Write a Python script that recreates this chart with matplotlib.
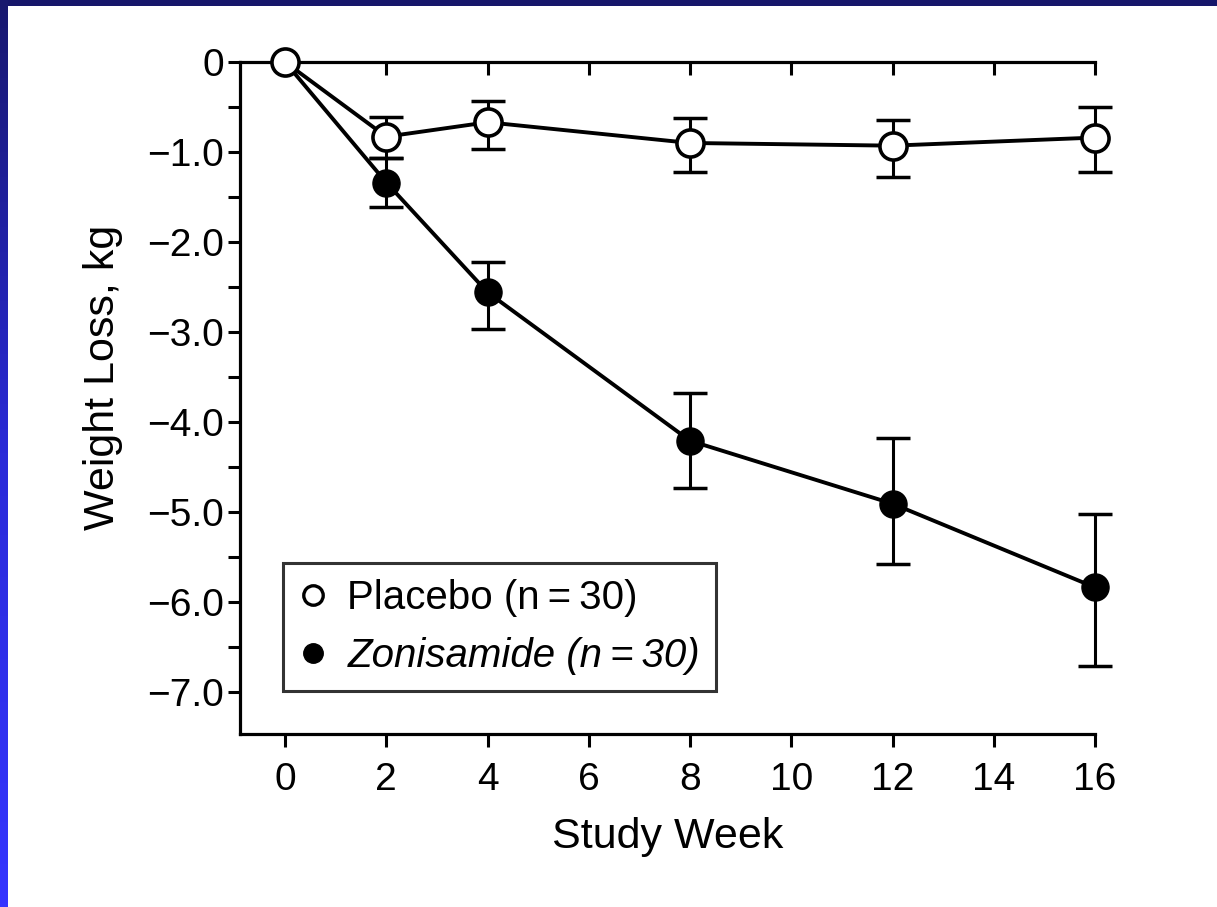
import numpy as np
import matplotlib
matplotlib.use("Agg")
import matplotlib.pyplot as plt
from matplotlib.lines import Line2D
from matplotlib.ticker import FixedLocator, FixedFormatter, MultipleLocator

# Study data: mean weight change (kg) with upper/lower error-bar ends
weeks = [0, 2, 4, 8, 12, 16]

placebo_mean = [0.0, -0.83, -0.67, -0.90, -0.93, -0.84]
placebo_hi = [0.0, -0.61, -0.43, -0.62, -0.64, -0.50]
placebo_lo = [0.0, -1.07, -0.97, -1.22, -1.28, -1.22]

zonisamide_mean = [0.0, -1.34, -2.56, -4.21, -4.91, -5.84]
zonisamide_hi = [0.0, -1.07, -2.22, -3.68, -4.18, -5.03]
zonisamide_lo = [0.0, -1.61, -2.97, -4.74, -5.58, -6.71]

x_ticks = [0, 2, 4, 6, 8, 10, 12, 14, 16]
y_ticks = [0, -1, -2, -3, -4, -5, -6, -7]
y_tick_labels = ["0", "\u22121.0", "\u22122.0", "\u22123.0", "\u22124.0",
                 "\u22125.0", "\u22126.0", "\u22127.0"]

series_labels = ["Placebo (n\u2009=\u200930)", "Zonisamide (n\u2009=\u200930)"]

plt.rcParams["font.family"] = ["Liberation Sans", "DejaVu Sans"]

W, H = 1217, 907
fig = plt.figure(figsize=(W / 100, H / 100), dpi=100)
fig.patch.set_facecolor("white")

# Slide frame: navy top band and a blue gradient strip on the left
top_ax = fig.add_axes([0, 1 - 6 / H, 1, 6 / H])
top_ax.set_axis_off()
top_ax.add_patch(plt.Rectangle((0, 0), 1, 1, color="#16166a", transform=top_ax.transAxes))

left_ax = fig.add_axes([0, 0, 8 / W, 1])
left_ax.set_axis_off()
grad = np.linspace(0, 1, 256).reshape(-1, 1)
cmap = matplotlib.colors.LinearSegmentedColormap.from_list("frame", ["#18186e", "#2a2ad8", "#3535ff"])
left_ax.imshow(grad, aspect="auto", cmap=cmap, extent=[0, 1, 1, 0])

# Main plot area
ax = fig.add_axes([240 / W, 1 - 734 / H, (1095 - 240) / W, (734 - 62) / H])
ax.set_xlim(-0.89, 16)
ax.set_ylim(-7.47, 0)

lw_spine = 2.3
for side in ("left", "bottom"):
    ax.spines[side].set_linewidth(lw_spine)
ax.spines["right"].set_visible(False)
ax.spines["top"].set_visible(False)

ax.xaxis.set_major_locator(FixedLocator(x_ticks))
ax.yaxis.set_major_locator(FixedLocator(y_ticks))
ax.yaxis.set_major_formatter(FixedFormatter(y_tick_labels))
ax.yaxis.set_minor_locator(MultipleLocator(0.5))

ax.tick_params(axis="x", which="major", direction="out", length=9, width=2.2,
               labelsize=28, pad=11)
ax.tick_params(axis="y", which="both", direction="out", length=8.5, width=2.2,
               labelsize=28, pad=3)

# Top frame line with inward ticks
top = ax.secondary_xaxis("top")
top.set_xticks(x_ticks)
top.tick_params(direction="in", length=9, width=2.2, labeltop=False)
top.spines["top"].set_linewidth(lw_spine)

ms = 19.5


def draw_series(mean, lo, hi, face, edge_w, z):
    mean = np.asarray(mean)
    lower = mean - np.asarray(lo)
    upper = np.asarray(hi) - mean
    eb = ax.errorbar(weeks[1:], mean[1:], yerr=[lower[1:], upper[1:]], fmt="none",
                     ecolor="black", elinewidth=2.2, capsize=12.5, capthick=2.5,
                     zorder=2)
    for art in eb.lines[1] + eb.lines[2]:
        art.set_clip_on(False)
    ax.plot(weeks, mean, color="black", linewidth=2.8, marker="o",
            markersize=ms, markerfacecolor=face, markeredgecolor="black",
            markeredgewidth=edge_w, zorder=z, clip_on=False)


draw_series(zonisamide_mean, zonisamide_lo, zonisamide_hi, "black", 1.0, 3)
draw_series(placebo_mean, placebo_lo, placebo_hi, "white", 2.6, 4)

ax.set_xlabel("Study Week", fontsize=31, labelpad=14)
ax.set_ylabel("Weight Loss, kg", fontsize=31)
ax.yaxis.set_label_coords(-0.137, 0.53)

handles = [
    Line2D([], [], linestyle="none", marker="o", markersize=14,
           markerfacecolor="white", markeredgecolor="black", markeredgewidth=2.4),
    Line2D([], [], linestyle="none", marker="o", markersize=14,
           markerfacecolor="black", markeredgecolor="black"),
]
leg = ax.legend(handles, series_labels, loc="upper left",
                bbox_to_anchor=(43 / 855, 171 / 672), borderaxespad=0,
                fontsize=29, frameon=True, fancybox=False, borderpad=0.4,
                handlelength=0.7, handletextpad=0.5, labelspacing=0.5)
leg.get_frame().set_edgecolor("black")
leg.get_frame().set_linewidth(2.2)
leg.get_texts()[1].set_style("italic")

fig.savefig("out.png", dpi=100, facecolor="white")
